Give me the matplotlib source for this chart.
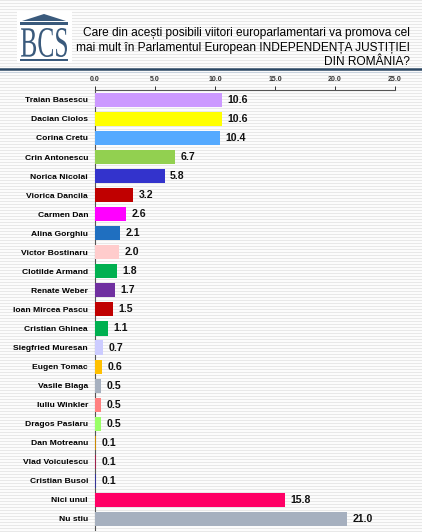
import matplotlib
matplotlib.use("Agg")
import matplotlib.pyplot as plt
from matplotlib.lines import Line2D
from matplotlib.patches import Rectangle, Polygon, PathPatch
from matplotlib.textpath import TextPath
from matplotlib.font_manager import FontProperties
from matplotlib.transforms import Affine2D

names = ["Traian Basescu", "Dacian Ciolos", "Corina Cretu", "Crin Antonescu",
         "Norica Nicolai", "Viorica Dancila", "Carmen Dan", "Alina Gorghiu",
         "Victor Bostinaru", "Clotilde Armand", "Renate Weber", "Ioan Mircea Pascu",
         "Cristian Ghinea", "Siegfried Muresan", "Eugen Tomac", "Vasile Blaga",
         "Iuliu Winkler", "Dragos Pasiaru", "Dan Motreanu", "Vlad Voiculescu",
         "Cristian Busoi", "Nici unul", "Nu stiu"]
values = [10.6, 10.6, 10.4, 6.7, 5.8, 3.2, 2.6, 2.1, 2.0, 1.8, 1.7, 1.5, 1.1,
          0.7, 0.6, 0.5, 0.5, 0.5, 0.1, 0.1, 0.1, 15.8, 21.0]
colors = ["#cc99ff", "#ffff00", "#55aaff", "#92d050", "#3333cc", "#c00000",
          "#ff00ff", "#1f6fc0", "#ffcccc", "#00b050", "#7030a0", "#c00000",
          "#00b050", "#ccccff", "#ffc000", "#a6b0bf", "#ff8080", "#99ff66",
          "#cc8800", "#a0204a", "#333399", "#ff0066", "#a6b0bf"]
xticks = [0, 5, 10, 15, 20, 25]
title = ("Care din acești posibili viitori europarlamentari va promova cel\n"
         "mai mult în Parlamentul European INDEPENDENȚA JUSTIȚIEI\n"
         "DIN ROMÂNIA?")

plt.rcParams['font.family'] = ['Liberation Sans', 'DejaVu Sans']

W, H = 422, 532
fig = plt.figure(figsize=(W / 100, H / 100), dpi=100)
fig.patch.set_facecolor("white")

# striped background
for yy in range(0, H, 3):
    fig.add_artist(Line2D([0, 1], [1 - yy / H, 1 - yy / H], transform=fig.transFigure,
                          color="#e8e8e8", lw=0.9, zorder=-10))

# header
fig.text(410 / W, 1 - 27 / H, title, ha="right", va="top", fontsize=8.6,
         color="black", linespacing=1.3)
fig.add_artist(Line2D([0, 1], [1 - 69 / H, 1 - 69 / H], transform=fig.transFigure,
                      color="#2b4763", lw=1.8))
fig.add_artist(Line2D([0, 1], [1 - 71.5 / H, 1 - 71.5 / H], transform=fig.transFigure,
                      color="#c9d3de", lw=0.8))

# logo
logo_c = "#3a5a7c"
fig.add_artist(Rectangle((17 / W, 1 - 63 / H), 55 / W, 52 / H, transform=fig.transFigure,
                         facecolor="white", edgecolor="none", zorder=1))
fig.add_artist(Polygon([[22 / W, 1 - 21 / H], [44 / W, 1 - 14 / H], [66 / W, 1 - 21 / H]],
                       closed=True, transform=fig.transFigure, facecolor=logo_c,
                       edgecolor="none", zorder=2))
fig.add_artist(Rectangle((20 / W, 1 - 25 / H), 48 / W, 2.5 / H, transform=fig.transFigure,
                         facecolor=logo_c, edgecolor="none", zorder=2))
fig.add_artist(Rectangle((20 / W, 1 - 61 / H), 48 / W, 2 / H, transform=fig.transFigure,
                         facecolor=logo_c, edgecolor="none", zorder=2))
tp = TextPath((0, 0), "BCS", size=10, prop=FontProperties(family="Liberation Serif"))
bb = tp.get_extents()
x0, x1, y0, y1 = 21, 67, 57, 28  # pixel box (y downward)
sx = (x1 - x0) / bb.width
sy = (y0 - y1) / bb.height
tr = (Affine2D().translate(-bb.x0, -bb.y0).scale(sx / W, sy / H)
      .translate(x0 / W, 1 - y0 / H) + fig.transFigure)
fig.add_artist(PathPatch(tp, transform=tr, facecolor=logo_c, edgecolor="none", zorder=3))

# chart
ax = fig.add_axes([95 / W, 1 - 530 / H, 300 / W, 440 / H])
ax.set_facecolor("none")
y = list(range(len(names)))
ax.barh(y, values, height=0.74, color=colors, edgecolor="none", zorder=3)
for yi, v in zip(y, values):
    ax.text(v + 0.45, yi, f"{v:.1f}", va="center", ha="left", fontsize=7.6,
            fontweight="bold", color="#111111")
ax.set_yticks(y)
ax.set_yticklabels(names, fontsize=6.1, fontweight="bold")
ax.set_ylim(22.58, -0.52)
ax.set_xlim(0, 25)
ax.xaxis.tick_top()
ax.set_xticks(xticks)
ax.set_xticklabels([f"{t:.1f}" for t in xticks], fontsize=5, fontweight="bold")
ax.tick_params(axis="x", length=3, width=0.7, pad=2, colors="#333333")
ax.tick_params(axis="y", length=0, pad=5)
for s in ["right", "bottom"]:
    ax.spines[s].set_visible(False)
ax.spines["top"].set_color("#555555")
ax.spines["left"].set_color("#555555")
ax.spines["top"].set_linewidth(0.8)
ax.spines["left"].set_linewidth(0.8)

fig.savefig("out.png", dpi=100)
